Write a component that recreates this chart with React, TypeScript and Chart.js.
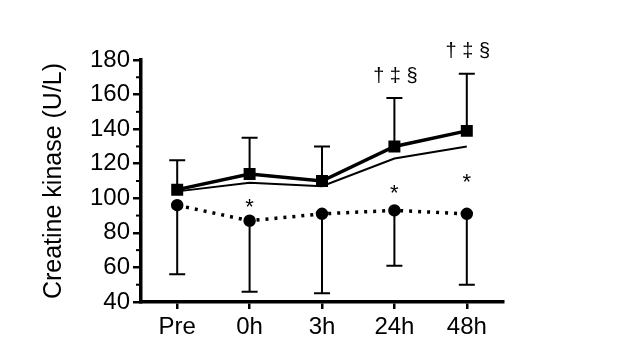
import React, { useEffect, useRef } from "react";
import { Chart, registerables } from "chart.js";

Chart.register(...registerables);

const categories = ["Pre", "0h", "3h", "24h", "48h"];
const thickMean = [105, 114, 110, 130, 139];
const thickUpper = [122, 135, 130, 158, 172];
const thinMean = [104, 109, 107, 123, 130];
const dottedMean = [96, 87, 91, 93, 91];
const dottedLower = [56, 46, 45, 61, 50];
const starLabelAt = [null, 97, null, 105, 111];
const daggerText = ["", "", "", "† ‡ §", "† ‡ §"];
const yTicks = { min: 40, max: 180, step: 20, minorStep: 10 };

const FONT = "'Liberation Sans', Arial, sans-serif";

const errorBarPlugin = {
  id: "errorBars",
  afterDatasetsDraw(chart: any) {
    const { ctx, scales } = chart;
    const x = scales.x;
    const y = scales.y;
    ctx.save();
    ctx.strokeStyle = "#000";
    ctx.lineWidth = 2;
    const cap = 8;
    categories.forEach((_, i) => {
      const px = x.getPixelForValue(i);
      const y0 = y.getPixelForValue(thickMean[i]);
      const y1 = y.getPixelForValue(thickUpper[i]);
      ctx.beginPath();
      ctx.moveTo(px, y0);
      ctx.lineTo(px, y1);
      ctx.moveTo(px - cap, y1);
      ctx.lineTo(px + cap, y1);
      ctx.stroke();
      const d0 = y.getPixelForValue(dottedMean[i]);
      const d1 = y.getPixelForValue(dottedLower[i]);
      ctx.beginPath();
      ctx.moveTo(px, d0);
      ctx.lineTo(px, d1);
      ctx.moveTo(px - cap, d1);
      ctx.lineTo(px + cap, d1);
      ctx.stroke();
    });
    const left = chart.chartArea.left;
    ctx.lineWidth = 2;
    for (let v = yTicks.min + yTicks.minorStep; v < yTicks.max; v += yTicks.step) {
      const py = y.getPixelForValue(v);
      ctx.beginPath();
      ctx.moveTo(left - 5, py);
      ctx.lineTo(left, py);
      ctx.stroke();
    }
    ctx.fillStyle = "#000";
    ctx.textAlign = "center";
    ctx.textBaseline = "middle";
    categories.forEach((_, i) => {
      const px = x.getPixelForValue(i);
      const s = starLabelAt[i];
      if (s !== null) {
        ctx.font = `22px ${FONT}`;
        ctx.fillText("*", px, y.getPixelForValue(s) + 4);
      }
      if (daggerText[i]) {
        ctx.font = `20px ${FONT}`;
        ctx.fillText(daggerText[i], px + 1, y.getPixelForValue(thickUpper[i]) - 22);
      }
    });
    ctx.restore();
  },
};

export default function App() {
  const ref = useRef<HTMLCanvasElement>(null);
  useEffect(() => {
    if (!ref.current) return;
    const chart = new Chart(ref.current, {
      type: "line",
      data: {
        labels: categories,
        datasets: [
          {
            data: thinMean,
            borderColor: "#000",
            borderWidth: 2,
            pointRadius: 0,
            tension: 0,
          },
          {
            data: thickMean,
            borderColor: "#000",
            backgroundColor: "#000",
            borderWidth: 3.5,
            pointStyle: "rect",
            pointRadius: 6,
            tension: 0,
          },
          {
            data: dottedMean,
            borderColor: "#000",
            backgroundColor: "#000",
            borderWidth: 3.5,
            borderDash: [3, 6],
            pointStyle: "circle",
            pointRadius: 4.5,
            tension: 0,
          },
        ],
      },
      options: {
        animation: false,
        responsive: true,
        maintainAspectRatio: false,
        layout: { padding: { left: 39, top: 60, right: 117, bottom: 0 } },
        plugins: { legend: { display: false }, tooltip: { enabled: false } },
        scales: {
          x: {
            type: "category",
            offset: true,
            grid: {
              drawOnChartArea: false,
              drawTicks: true,
              tickLength: 7,
              lineWidth: 2.5,
              color: "#000",
              offset: false,
            },
            border: { color: "#000", width: 3.5 },
            ticks: {
              color: "#000",
              font: { family: FONT, size: 24 },
              padding: 4,
              maxRotation: 0,
            },
            afterFit(scale: any) {
              scale.height = 49;
            },
          },
          y: {
            min: yTicks.min,
            max: yTicks.max,
            grid: {
              drawOnChartArea: false,
              drawTicks: true,
              tickLength: 8,
              lineWidth: 2.5,
              color: "#000",
            },
            border: { color: "#000", width: 3.5 },
            ticks: {
              stepSize: yTicks.step,
              color: "#000",
              font: { family: FONT, size: 24 },
              padding: 3,
            },
            title: {
              display: true,
              text: "Creatine kinase (U/L)",
              color: "#000",
              font: { family: FONT, size: 25 },
              padding: 0,
            },
            afterFit(scale: any) {
              scale.width = 102;
            },
          },
        },
      },
      plugins: [errorBarPlugin],
    });
    return () => chart.destroy();
  }, []);
  return (
    <div style={{ position: "fixed", left: 0, top: 0, width: 620, height: 351, background: "#fff" }}>
      <canvas ref={ref} />
    </div>
  );
}
